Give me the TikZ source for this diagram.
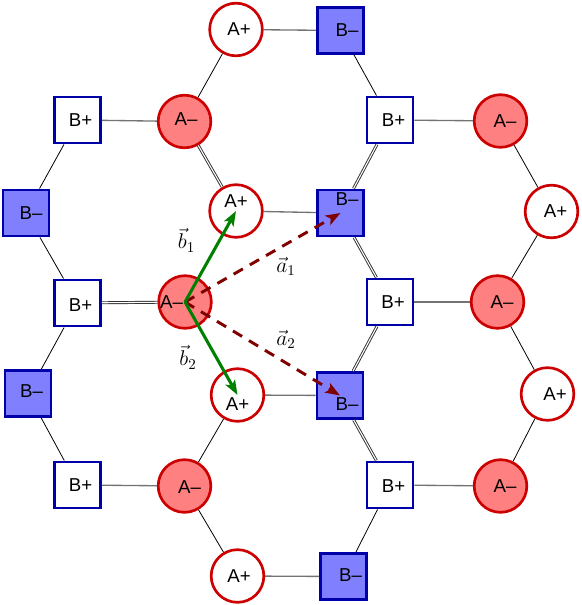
\RequirePackage{fix-cm}
\documentclass[tikz,border=0pt]{standalone}
\usepackage{fontspec}
\newfontfamily\sitefont{Liberation Sans}
\usetikzlibrary{arrows.meta}

\begin{document}
\begin{tikzpicture}[
  x=0.75pt, y=-0.75pt,
  aplus/.style={circle, draw=red!80!black, line width=2pt, fill=white,
    minimum size=39.5pt, inner sep=0pt},
  aminus/.style={aplus, fill=red!50},
  bplus/.style={rectangle, draw=blue!67!black, line width=2.2pt, fill=white,
    minimum size=34.5pt, inner sep=0pt},
  bminus/.style={bplus, fill=blue!50},
  site/.style={font=\sitefont\fontsize{14}{16}\selectfont, inner sep=0pt},
  bond/.style={line width=0.6pt},
  hbond/.style={draw=black!55, line width=1pt},
  dbond/.style={draw=black!80, line width=0.7pt, double, double distance=0.8pt},
  bvec/.style={-{Stealth[length=11pt,width=8pt,inset=2.5pt]}, line width=2.3pt,
    draw=green!50!black},
  avec/.style={-{Stealth[length=11pt,width=8pt,inset=2.5pt]}, line width=2.2pt,
    draw=red!50!black, dash pattern=on 8pt off 6pt},
  vlab/.style={font=\fontsize{16}{18}\selectfont, inner sep=0pt}
]
\useasboundingbox (0,0) rectangle (581,605);
% sites, row by row
\node[aplus, label={[site,shift={(3,0)}]center:A+}] (ap1) at (236,29.5) {};
\node[bminus, label={[site,shift={(6.5,0)}]center:B–}] (bm1) at (340.5,30.5) {};
\node[bplus, label={[site,shift={(3,0)}]center:B+}] (bp1) at (77.5,120) {};
\node[aminus, label={[site,shift={(1.5,-2)}]center:A–}] (am1) at (184.5,121.5) {};
\node[bplus, label={[site,shift={(3.5,0)}]center:B+}] (bp2) at (390,120) {};
\node[aminus, label={[site,shift={(4.5,0)}]center:A–}] (am2) at (500.5,121) {};
\node[bminus, label={[site,shift={(5,0)}]center:B–}] (bm2) at (26,213) {};
\node[aplus, label={[site,shift={(0,-10)}]center:A+}] (ap2) at (236,211) {};
\node[bminus, label={[site,shift={(6.5,-13.5)}]center:B–}] (bm3) at (340.5,213) {};
\node[aplus, label={[site,shift={(4,0)}]center:A+}] (ap3) at (551.5,211.5) {};
\node[bplus, label={[site,shift={(3,2)}]center:B+}] (bp3) at (77.5,303) {};
\node[aminus, label={[site,shift={(-13.5,0)}]center:A–}] (am3) at (185,302) {};
\node[bplus, label={[site,shift={(3,0)}]center:B+}] (bp4) at (390,302) {};
\node[aminus, label={[site,shift={(4.5,0)}]center:A–}] (am4) at (497.5,302) {};
\node[bminus, label={[site,shift={(3.5,-2)}]center:B–}] (bm4) at (28,393.5) {};
\node[aplus, label={[site,shift={(0,9.5)}]center:A+}] (ap4) at (237.5,395) {};
\node[bminus, label={[site,shift={(7,9)}]center:B–}] (bm5) at (340,395.5) {};
\node[aplus, label={[site,shift={(7.5,0)}]center:A+}] (ap5) at (547.5,394) {};
\node[bplus, label={[site,shift={(3,0)}]center:B+}] (bp5) at (77.5,485) {};
\node[aminus, label={[site,shift={(5,1.5)}]center:A–}] (am5) at (184.5,486) {};
\node[bplus, label={[site,shift={(3.5,1.5)}]center:B+}] (bp6) at (390,485) {};
\node[aminus, label={[site,shift={(4.5,0)}]center:A–}] (am6) at (500.5,486) {};
\node[aplus, label={[site,shift={(1.5,0)}]center:A+}] (ap6) at (237.5,576) {};
\node[bminus, label={[site,shift={(7,-1)}]center:B–}] (bm6) at (343.5,576.5) {};
% bonds
\draw[hbond] (ap1) -- (bm1);
\draw[bond] (ap1) -- (am1);
\draw[bond] (bm1) -- (bp2);
\draw[hbond] (bp1) -- (am1);
\draw[bond] (bp1) -- (bm2);
\draw[dbond] (am1) -- (ap2);
\draw[hbond] (bp2) -- (am2);
\draw[dbond] (bp2) -- (bm3);
\draw[bond] (am2) -- (ap3);
\draw[hbond] (ap2) -- (bm3);
\draw[bond] (bm2) -- (bp3);
\draw[dbond] (bm3) -- (bp4);
\draw[bond] (ap3) -- (am4);
\draw[dbond] (bp3) -- (am3);
\draw[hbond] (bp4) -- (am4);
\draw[bond] (bp3) -- (bm4);
\draw[bond] (am3) -- (ap2);
\draw[bond] (am3) -- (ap4);
\draw[dbond] (bp4) -- (bm5);
\draw[bond] (am4) -- (ap5);
\draw[hbond] (ap4) -- (bm5);
\draw[bond] (bm4) -- (bp5);
\draw[dbond] (bm5) -- (bp6);
\draw[bond] (ap5) -- (am6);
\draw[hbond] (bp5) -- (am5);
\draw[bond] (am5) -- (ap4);
\draw[hbond] (bp6) -- (am6);
\draw[bond] (am5) -- (ap6);
\draw[bond] (bp6) -- (bm6);
\draw[hbond] (ap6) -- (bm6);
% lattice vectors
\draw[avec] (am3.center) -- (bm3.center);
\draw[avec] (am3.center) -- (bm5.center);
\draw[bvec] (am3.center) -- (ap2.center);
\draw[bvec] (am3.center) -- (ap4.center);
\node[vlab] (b1lab) at (186.5,240) {$\vec{b}_1$};
\node[vlab] (b2lab) at (188,357) {$\vec{b}_2$};
\node[vlab] (a1lab) at (286,266) {$\vec{a}_1$};
\node[vlab] (a2lab) at (286,339) {$\vec{a}_2$};
\end{tikzpicture}
\end{document}
